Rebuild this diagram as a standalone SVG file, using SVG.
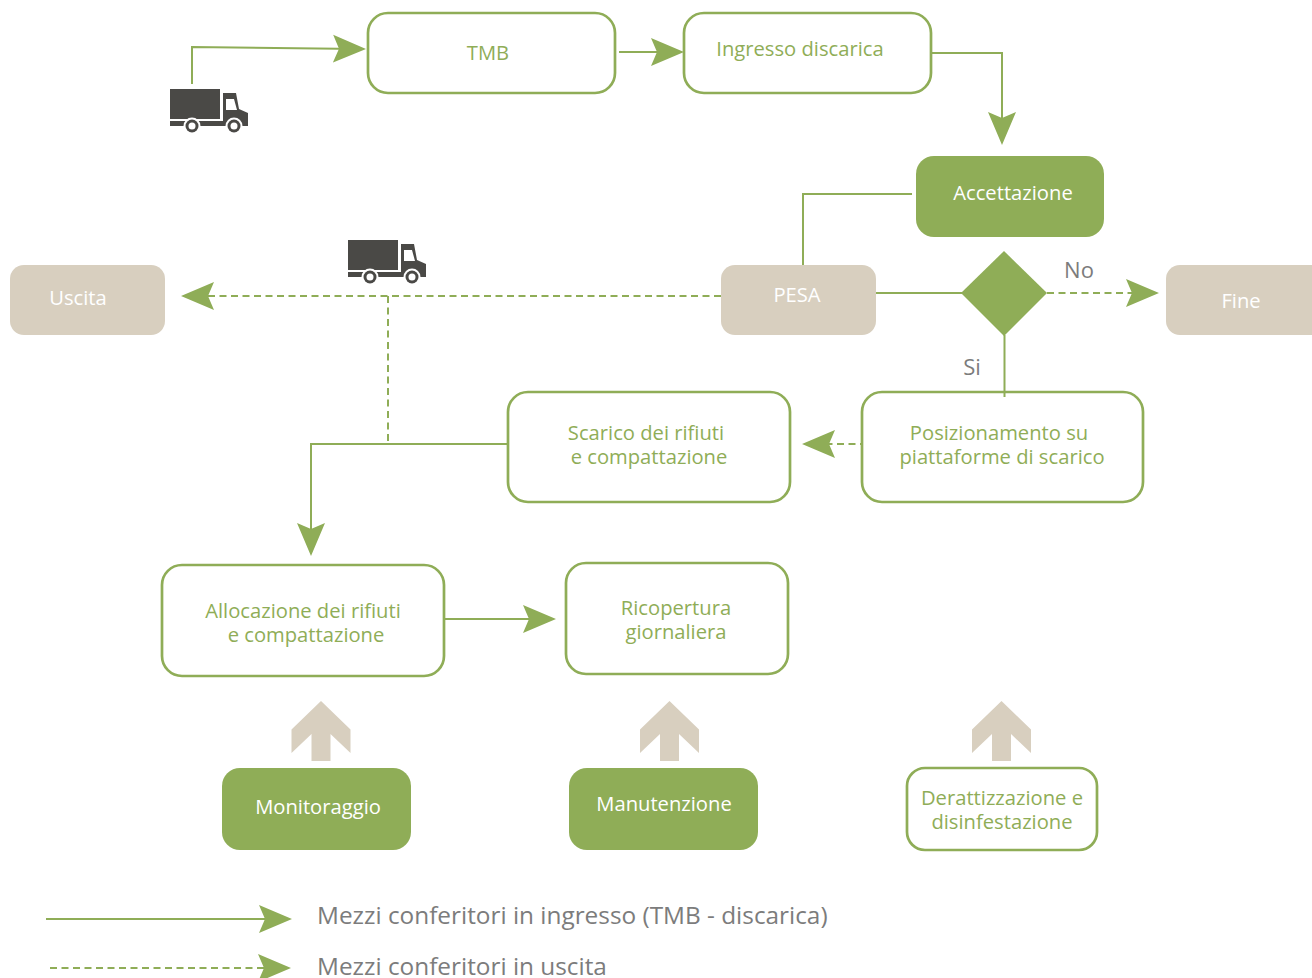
<svg xmlns="http://www.w3.org/2000/svg" width="1312" height="978" viewBox="0 0 1312 978">
<style>
text{font-family:"Open Sans","Liberation Sans",sans-serif;font-size:20.2px;font-weight:400;text-anchor:middle}
.o{fill:#fff;stroke:#8fad57;stroke-width:2.700}
.f{fill:#8fad57}
.b{fill:#d8cfbf}
.g{fill:#8fad57}
.w{fill:#fff}
.k{fill:#7c7c7c;font-size:22px}
.l{fill:#7c7c7c;font-size:24.360px;text-anchor:start}
.c{fill:none;stroke:#8fad57;stroke-width:2}
.d{stroke-dasharray:7 4.500}
.u{fill:#d8cfbf}
</style>
<defs>
<marker id="a" markerUnits="userSpaceOnUse" markerWidth="34" markerHeight="36" refX="27" refY="18" orient="auto"><path d="M0 4L33 18L0 32L6 18Z" fill="#8fad57"/></marker>
<g id="truck">
<rect x="170" y="89" width="50" height="30" fill="#4a4946"/>
<path d="M223 93H236L239 109L248 113V126H170V121H223Z" fill="#4a4946"/>
<path d="M226 99H234L237 110H226Z" fill="#fff"/>
<g><circle cx="192" cy="126" r="8.500" fill="#fff"/><circle cx="192" cy="126" r="6.500" fill="#4a4946"/><circle cx="192" cy="126" r="3.500" fill="#fff"/></g>
<g><circle cx="234" cy="126" r="8.500" fill="#fff"/><circle cx="234" cy="126" r="6.500" fill="#4a4946"/><circle cx="234" cy="126" r="3.500" fill="#fff"/></g>
</g>
<path id="up" d="M0 0L29.500 28.500V52L9.500 33V60H-9.500V33L-29.500 52V28.500Z" class="u"/>
</defs>
<g id="connectors">
<path class="c" d="M192 84V47L360 49" marker-end="url(#a)"/>
<path class="c" d="M619 52H678" marker-end="url(#a)"/>
<path class="c" d="M931 53H1002V139" marker-end="url(#a)"/>
<path class="c" d="M912 194H803V265"/>
<path class="c d" d="M721 296H187" marker-end="url(#a)"/>
<path class="c d" d="M388 296V444"/>
<path class="c" d="M508 444H311V550" marker-end="url(#a)"/>
<path class="c" d="M876 293H962"/>
<path class="c d" d="M1047 293H1153" marker-end="url(#a)"/>
<path class="c d" d="M867 444H808" marker-end="url(#a)"/>
<path class="c" d="M445 619H550" marker-end="url(#a)"/>
<path class="c" d="M46 919H286" marker-end="url(#a)"/>
<path class="c d" d="M50 968H285" marker-end="url(#a)"/>
</g>
<g id="truck1"><use href="#truck"/></g>
<g id="truck2"><use href="#truck" x="178" y="151"/></g>
<g id="tmb"><rect class="o" x="368" y="13" width="247" height="80" rx="20"/><text class="g" x="488" y="60">TMB</text></g>
<g id="ingresso"><rect class="o" x="684" y="13" width="247" height="80" rx="20"/><text class="g" x="800" y="56">Ingresso discarica</text></g>
<g id="accettazione"><rect class="f" x="916" y="156" width="188" height="81" rx="18"/><text class="w" x="1013" y="200">Accettazione</text></g>
<g id="pesa"><rect class="b" x="721" y="265" width="155" height="70" rx="14"/><text class="w" x="797" y="302">PESA</text></g>
<g id="uscita"><rect class="b" x="10" y="265" width="155" height="70" rx="14"/><text class="w" x="78" y="305">Uscita</text></g>
<g id="fine"><rect class="b" x="1166" y="265" width="160" height="70" rx="14"/><text class="w" x="1241" y="308">Fine</text></g>
<g id="decisione"><path class="f" d="M1004 251L1047 293L1004 336L961 293Z"/></g>
<text class="k" x="1079" y="278">No</text>
<text class="k" x="972" y="375">Si</text>
<g id="posizionamento"><rect class="o" x="862" y="392" width="281" height="110" rx="20"/><text class="g" x="999" y="440">Posizionamento su</text><text class="g" x="1002" y="464">piattaforme di scarico</text></g>
<path class="c" id="si-line" d="M1004.500 335V397"/>
<g id="scarico"><rect class="o" x="508" y="392" width="282" height="110" rx="20"/><text class="g" x="646" y="440">Scarico dei rifiuti</text><text class="g" x="649" y="464">e compattazione</text></g>
<g id="allocazione"><rect class="o" x="162" y="565" width="282" height="111" rx="20"/><text class="g" x="303" y="618">Allocazione dei rifiuti</text><text class="g" x="306" y="642">e compattazione</text></g>
<g id="ricopertura"><rect class="o" x="566" y="563" width="222" height="111" rx="20"/><text class="g" x="676" y="615">Ricopertura</text><text class="g" x="676" y="639">giornaliera</text></g>
<g id="up1"><use href="#up" x="321" y="701"/></g>
<g id="up2"><use href="#up" x="669.500" y="701"/></g>
<g id="up3"><use href="#up" x="1001.500" y="701"/></g>
<g id="monitoraggio"><rect class="f" x="222" y="768" width="189" height="82" rx="18"/><text class="w" x="318" y="814">Monitoraggio</text></g>
<g id="manutenzione"><rect class="f" x="569" y="768" width="189" height="82" rx="18"/><text class="w" x="664" y="811">Manutenzione</text></g>
<g id="derattizzazione"><rect class="o" x="907" y="768" width="190" height="82" rx="18"/><text class="g" x="1002" y="805">Derattizzazione e</text><text class="g" x="1002" y="829">disinfestazione</text></g>
<g id="legenda"><text class="l" x="317" y="924">Mezzi conferitori in ingresso (TMB - discarica)</text><text class="l" x="317" y="975">Mezzi conferitori in uscita</text></g>
</svg>
